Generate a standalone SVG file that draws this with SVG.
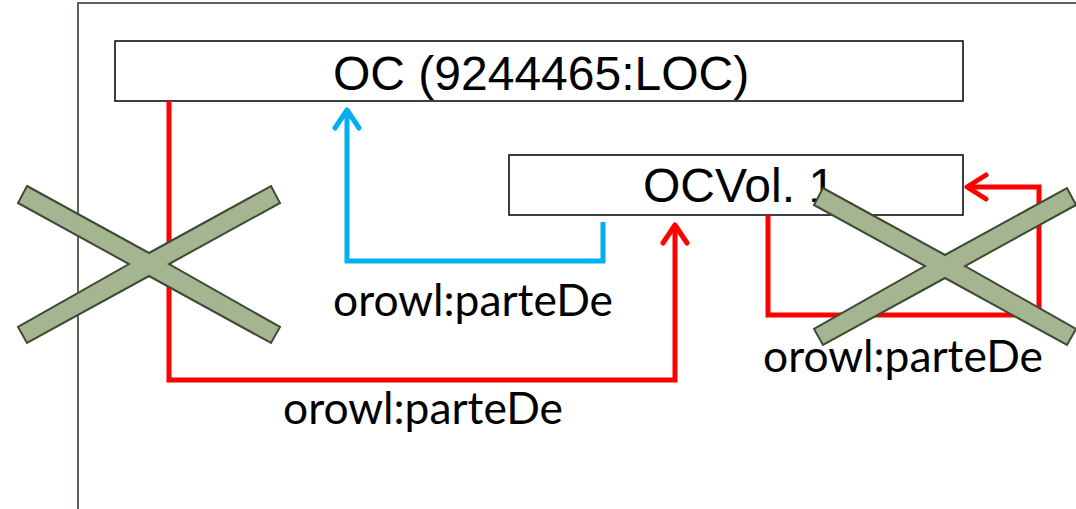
<svg xmlns="http://www.w3.org/2000/svg" width="1076" height="509" viewBox="0 0 1076 509">
<style>
.box{fill:#ffffff;stroke:#000000;stroke-width:1.5}
.title{font-family:"Liberation Sans",Arial,sans-serif;font-size:48px;fill:#000}
.lbl{font-family:Lato,"Open Sans",sans-serif;font-size:45px;fill:#000}
.red{fill:none;stroke:#ff0000;stroke-width:5;stroke-linejoin:miter}
.blue{fill:none;stroke:#00b0f0;stroke-width:5;stroke-linejoin:miter}
.redhead{fill:none;stroke:#ff0000;stroke-width:5;stroke-linecap:round;stroke-linejoin:round}
.bluehead{fill:none;stroke:#00b0f0;stroke-width:5;stroke-linecap:round;stroke-linejoin:round}
.cross{fill:#a5b592;stroke:#3f4a35;stroke-width:2}
</style>
<rect width="1076" height="509" fill="#ffffff"/>
<g id="frame">
<path d="M78 509 V3 H1076" fill="none" stroke="#5b6352" stroke-width="2"/>
</g>
<g id="node-oc">
<rect class="box" x="115" y="41" width="848" height="60"/>
<text class="title" x="333" y="90">OC (9244465:LOC)</text>
</g>
<g id="node-ocvol">
<rect class="box" x="509" y="155" width="454" height="60"/>
<text class="title" x="643" y="202">OCVol. 1</text>
</g>
<g id="connectors">
<path class="blue" d="M603 222 V261 H347 V110"/>
<path class="bluehead" d="M335 128 L347 110 L359 128"/>
<path class="red" d="M169 101 V380 H675 V226"/>
<path class="redhead" d="M663 243 L675 225 L687 243"/>
<path class="red" d="M768 215 V315 H1039 V187 H968"/>
<path class="redhead" d="M986 175 L967 187 L986 199"/>
<text class="lbl" x="333" y="316" textLength="280" lengthAdjust="spacingAndGlyphs">orowl:parteDe</text>
<text class="lbl" x="283" y="424" textLength="280" lengthAdjust="spacingAndGlyphs">orowl:parteDe</text>
<text class="lbl" x="763" y="372" textLength="280" lengthAdjust="spacingAndGlyphs">orowl:parteDe</text>
</g>
<g id="cross-left">
<polygon class="cross" points="27,186 149,253 271,186 280,203 169,264 280,327 271,343 149,276 27,343 18,327 129,264 18,203"/>
</g>
<g id="cross-right">
<polygon class="cross" points="823,188 945,255 1067,188 1076,205 965,266 1076,329 1067,345 945,278 823,345 814,329 925,266 814,205"/>
</g>
</svg>
